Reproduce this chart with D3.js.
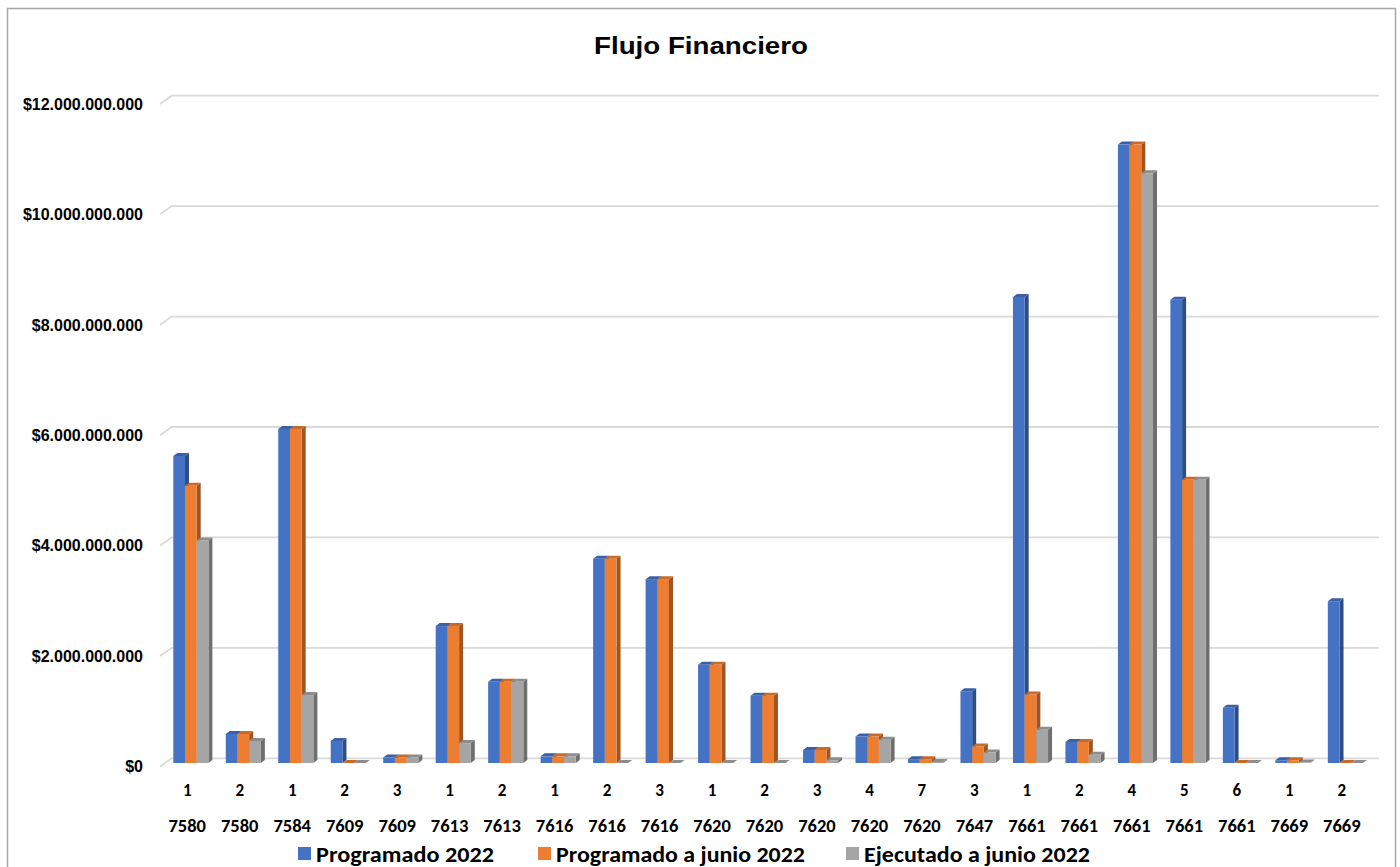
<!DOCTYPE html>
<html>
<head>
<meta charset="utf-8">
<script src="https://cdn.jsdelivr.net/npm/d3@7"></script>
<style>
  html, body { margin: 0; padding: 0; background: #fff; }
  svg { display: block; }
</style>
</head>
<body>
<svg id="chart" width="1400" height="867"></svg>
<script>
// ---- Data (values in pesos) ----
const codes = ["7580","7580","7584","7609","7609","7613","7613","7616","7616","7616","7620","7620","7620","7620","7620","7647","7661","7661","7661","7661","7661","7669","7669"];
const subs  = ["1","2","1","2","3","1","2","1","2","3","1","2","3","4","7","3","1","2","4","5","6","1","2"];
const programado2022 = [5.56e9,0.525e9,6.05e9,0.40e9,0.10e9,2.48e9,1.47e9,0.12e9,3.70e9,3.33e9,1.78e9,1.22e9,0.235e9,0.48e9,0.07e9,1.30e9,8.44e9,0.38e9,11.2e9,8.39e9,1.00e9,0.05e9,2.93e9];
const programadoJunio = [5.02e9,0.525e9,6.05e9,0,0.10e9,2.48e9,1.47e9,0.12e9,3.70e9,3.33e9,1.78e9,1.22e9,0.235e9,0.48e9,0.07e9,0.30e9,1.24e9,0.38e9,11.2e9,5.13e9,0,0.05e9,0];
const ejecutadoJunio = [4.03e9,0.40e9,1.23e9,0,0.10e9,0.36e9,1.47e9,0.12e9,0,0,0,0,0.05e9,0.42e9,0.02e9,0.19e9,0.60e9,0.15e9,10.68e9,5.13e9,0,0.01e9,0];
const seriesNames = ["Programado 2022","Programado a junio 2022","Ejecutado a junio 2022"];
const seriesColors = ["#4472C4","#ED7D31","#A5A5A5"];
const yTicks = [0,2e9,4e9,6e9,8e9,10e9,12e9];
const title = "Flujo Financiero";

const series = [programado2022, programadoJunio, ejecutadoJunio];

// ---- Layout ----
const svg = d3.select("#chart");

// frame
svg.append("path")
  .attr("d", "M7.5,870 L7.5,8.5 L1395.5,8.5 L1395.5,870")
  .attr("fill","none").attr("stroke","#a6a6a6").attr("stroke-width",1.5);

const idx = d3.range(codes.length);
const x = d3.scaleBand().domain(idx).range([160, 1367]).padding(0);
const inner = d3.scaleBand().domain([0,1,2]).range([13.3, 13.3 + 35.1]).padding(0);
const y = d3.scaleLinear().domain([0, 12e9]).range([763, 100.4]);

const backDy = -4.7, frontDy = 3.5;   // wall / floor-front offsets relative to bar front
const wallDx = 11.7;
const depth = {dx: 4, dy: -3};

// gridlines on back wall with side-wall kink
const grid = svg.append("g");
yTicks.forEach(v => {
  const yf = y(v) + frontDy, yb = y(v) + backDy;
  grid.append("path")
    .attr("d", `M160,${yf} L${160 + wallDx},${yb} L1379,${yb}`)
    .attr("fill","none").attr("stroke","#d9d9d9").attr("stroke-width",1.8);
});

// y labels
const fmt = v => "$" + d3.format(",")(v).replace(/,/g, ".");
svg.append("g").selectAll("text").data(yTicks).join("text")
  .attr("x", 143).attr("y", d => y(d) + frontDy)
  .attr("dy", "0.36em")
  .attr("text-anchor","end")
  .attr("font-family","'Liberation Sans', Arial, sans-serif")
  .attr("font-weight","bold").attr("font-size",16).attr("fill","#000")
  .text(fmt);

// bars (3D look)
const bars = svg.append("g");
idx.forEach(i => {
  series.forEach((s, k) => {
    const v = s[i];
    const x0 = x(i) + inner(k), w = inner.bandwidth();
    const yt = y(v), yb = y(0);
    const c = d3.color(seriesColors[k]);
    const side = d3.color(seriesColors[k]).darker(1.1);
    const top = d3.color(seriesColors[k]).darker(0.45);
    const g = bars.append("g");
    g.append("path")
      .attr("d", `M${x0+w},${yb} L${x0+w},${yt} L${x0+w+depth.dx},${yt+depth.dy} L${x0+w+depth.dx},${yb+depth.dy} Z`)
      .attr("fill", side);
    g.append("path")
      .attr("d", `M${x0},${yt} L${x0+depth.dx},${yt+depth.dy} L${x0+w+depth.dx},${yt+depth.dy} L${x0+w},${yt} Z`)
      .attr("fill", top);
    g.append("rect")
      .attr("x", x0).attr("y", yt).attr("width", w).attr("height", Math.max(0, yb - yt))
      .attr("fill", c);
  });
});

// category labels (two rows)
const catFont = "Carlito, Calibri, 'Liberation Sans Narrow', 'Open Sans', sans-serif";
svg.append("g").selectAll("text").data(idx).join("text")
  .attr("x", d => x(d) + x.bandwidth()/2 + 1).attr("y", 796)
  .attr("text-anchor","middle")
  .attr("font-family", catFont).attr("font-weight","bold").attr("font-size",17)
  .text(d => subs[d]);
svg.append("g").selectAll("text").data(idx).join("text")
  .attr("x", d => x(d) + x.bandwidth()/2 + 1).attr("y", 832)
  .attr("text-anchor","middle")
  .attr("font-family", catFont).attr("font-weight","bold").attr("font-size",18.5)
  .text(d => codes[d]);

// title
svg.append("text")
  .attr("x", 701).attr("y", 54)
  .attr("text-anchor","middle")
  .attr("font-family","'Liberation Sans', Arial, sans-serif")
  .attr("font-weight","bold").attr("font-size",23)
  .attr("textLength", 214).attr("lengthAdjust","spacingAndGlyphs")
  .text(title);

// legend
const legendItems = [
  {sx: 298, tx: 316, tw: 178},
  {sx: 538, tx: 556, tw: 249},
  {sx: 846, tx: 864, tw: 226}
];
const lg = svg.append("g");
legendItems.forEach((it, k) => {
  lg.append("rect").attr("x", it.sx).attr("y", 847).attr("width", 13).attr("height", 13)
    .attr("fill", seriesColors[k]);
  lg.append("text").attr("x", it.tx).attr("y", 862)
    .attr("font-family", catFont).attr("font-weight","bold").attr("font-size",22.5)
    .attr("textLength", it.tw).attr("lengthAdjust","spacingAndGlyphs")
    .text(seriesNames[k]);
});
</script>
</body>
</html>
